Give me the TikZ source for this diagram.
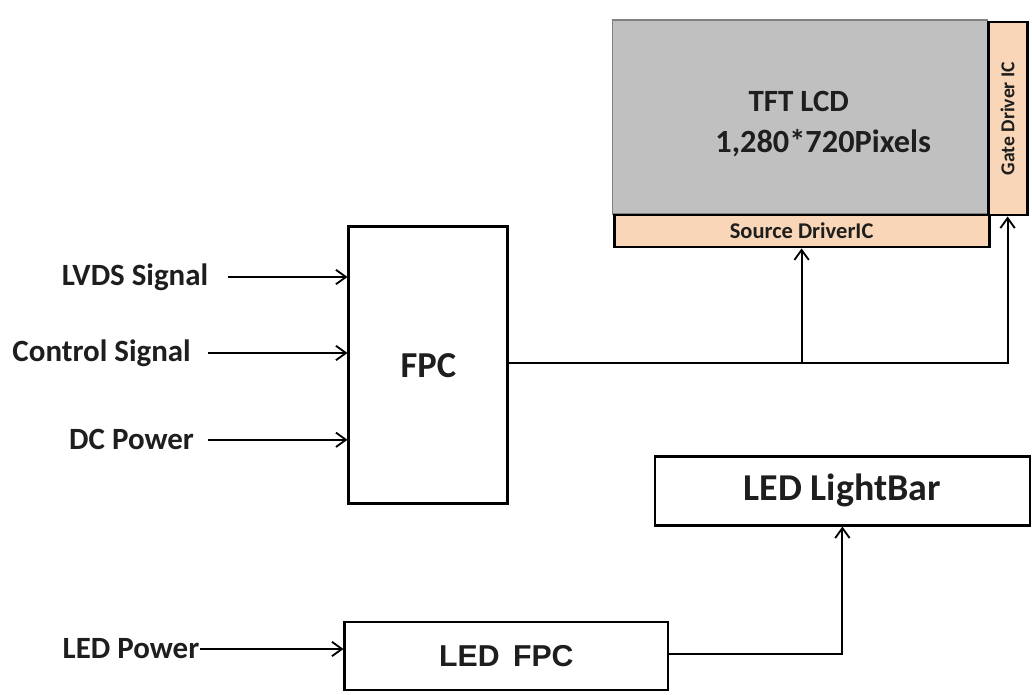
\documentclass[tikz,border=0pt]{standalone}
\usepackage{fontspec}
\setmainfont{Carlito}
\newfontfamily\arialfont{Liberation Sans}
\usepackage{xcolor}
\usetikzlibrary{arrows.meta,positioning,calc}
\definecolor{lcdgray}{RGB}{192,192,192}
\definecolor{icpeach}{RGB}{249,214,183}
\definecolor{ink}{RGB}{30,30,30}

\begin{document}
\begin{tikzpicture}[
  font=\bfseries, text=ink,
  blk/.style={draw, line width=2pt, fill=white, inner sep=0pt},
  ic/.style={draw, line width=2pt, fill=icpeach, inner sep=0pt, font=\bfseries\fontsize{16}{18}\selectfont},
  sig/.style={font=\bfseries\fontsize{22}{24}\selectfont, inner sep=0pt},
  arr/.style={-{Straight Barb[length=2.5mm,width=3.6mm]}, line width=1.3pt}
]
\useasboundingbox (0,0) rectangle (25.8,17.375);
% panel
\node[draw=gray, line width=0.8pt, fill=lcdgray, minimum width=9.375cm, minimum height=4.85cm] (lcd) at (20.01,14.45) {};
\node[font=\bfseries\fontsize{22}{24}\selectfont] (tft) at (19.97,14.85) {TFT LCD};
\node[font=\bfseries\fontsize{23}{25}\selectfont] (pix) at (20.58,13.8) {1,280*720Pixels};
\node[ic, minimum width=0.975cm, minimum height=4.825cm] (gate) at (25.19,14.41) {};
\node[rotate=90, font=\bfseries\fontsize{14}{16}\selectfont, inner sep=0pt] (gatelbl) at (gate.center) {Gate Driver IC};
\node[ic, minimum width=9.375cm, minimum height=0.8cm] (src) at (20.04,11.6) {Source DriverIC};
% fpc
\node[blk, minimum width=3.975cm, minimum height=6.925cm, font=\bfseries\fontsize{26}{28}\selectfont] (fpc) at (10.71,8.24) {FPC};
\node[sig] (lvds) at (3.375,10.45) {LVDS Signal};
\node[sig] (ctrl) at (2.54,8.55) {Control Signal};
\node[sig] (dcpw) at (3.29,6.38) {DC Power};
% backlight
\node[blk, minimum width=9.375cm, minimum height=1.725cm, font=\bfseries\fontsize{27}{30}\selectfont] (bar) at (21.06,5.11) {LED LightBar};
\node[blk, minimum width=8.075cm, minimum height=1.7cm, font=\arialfont\bfseries\fontsize{21.5}{24}\selectfont] (ledfpc) at (12.66,0.975) {LED\, FPC};
\node[sig] (ledpw) at (3.275,1.15) {LED Power};
% connectors
\draw[arr, shorten <=0.5cm] (lvds.east) -- (lvds.east -| fpc.west);
\draw[arr, shorten <=0.43cm] (ctrl.east) -- (ctrl.east -| fpc.west);
\draw[arr, shorten <=0.35cm] (dcpw.east) -- (dcpw.east -| fpc.west);
\draw[arr] (ledpw.east) -- (ledpw.east -| ledfpc.west);
\draw[arr] ($(fpc.east)+(0,0.06)$) -| (gate.south);
\draw[arr] ($(fpc.east)+(0,0.06)$) -| (src.south);
\draw[arr] ($(ledfpc.east)+(0,0.05)$) -| (bar.south);
\end{tikzpicture}
\end{document}
